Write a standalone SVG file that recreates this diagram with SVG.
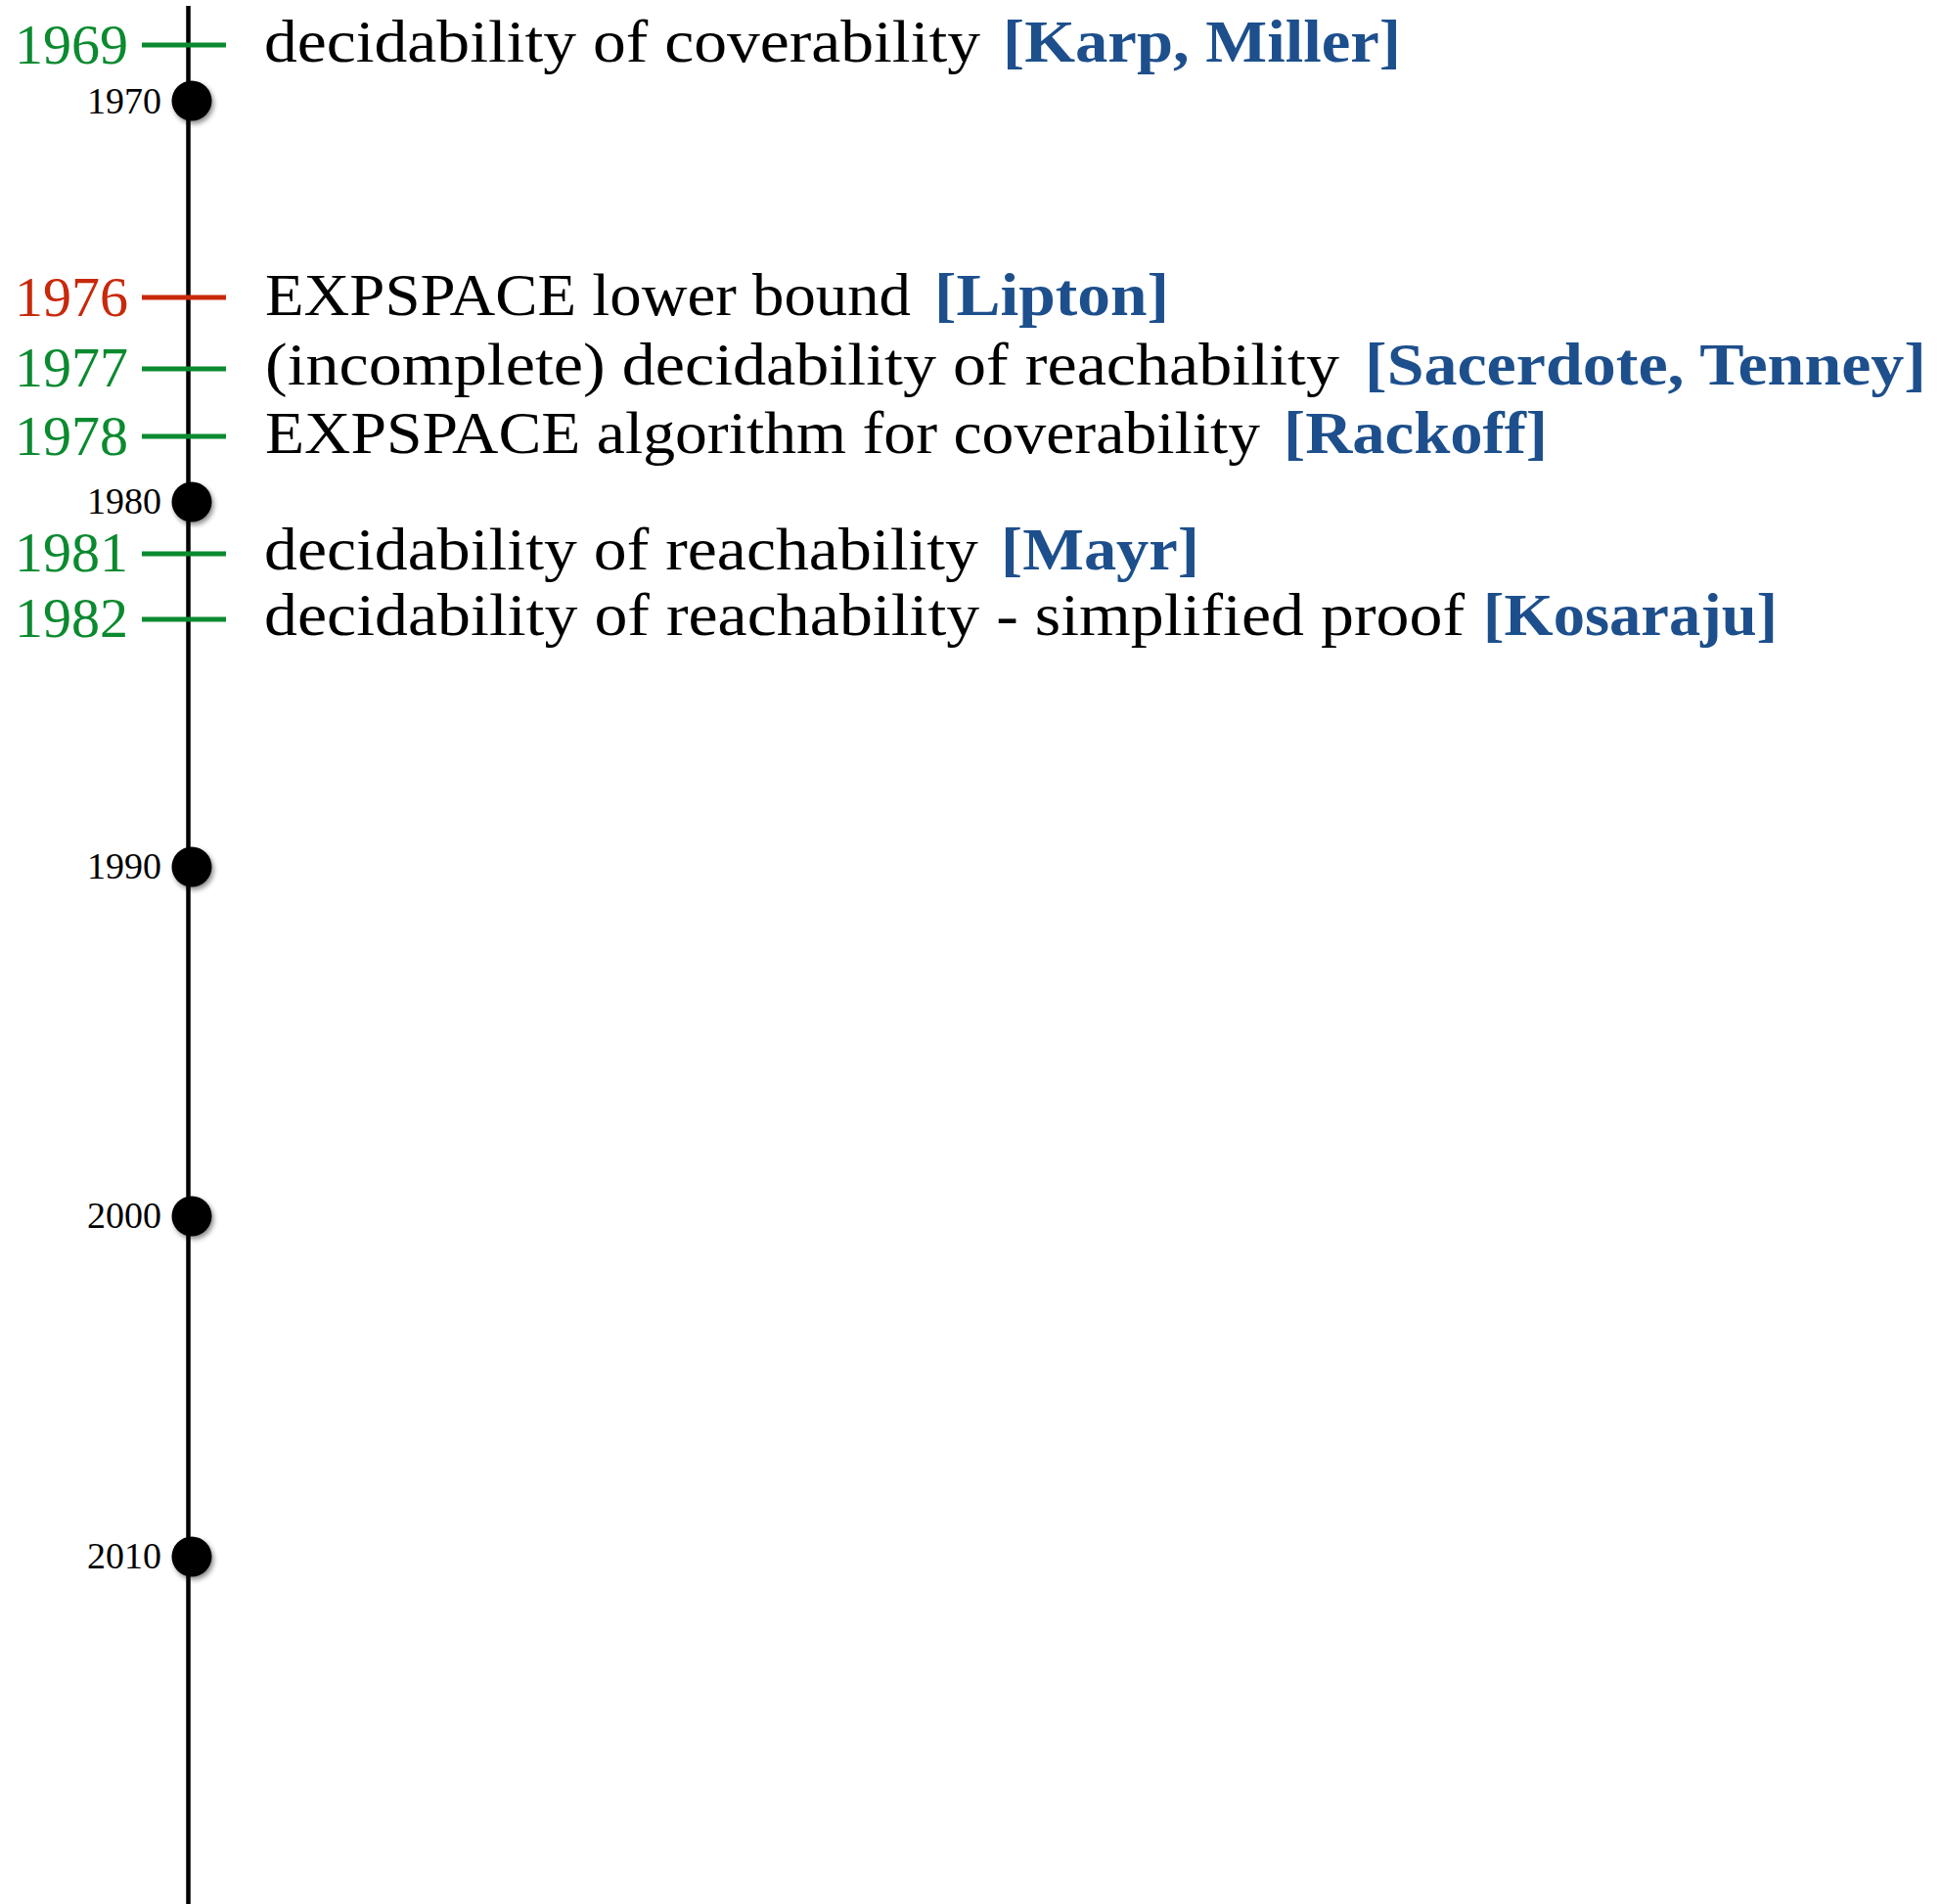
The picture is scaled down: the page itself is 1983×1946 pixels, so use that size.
<svg xmlns="http://www.w3.org/2000/svg" width="1983" height="1946" viewBox="0 0 1983 1946">
<style>
.yr{font-family:"Liberation Serif",serif;font-size:58px;text-anchor:end}
.g{fill:#0B8A2F}
.r{fill:#C8290B}
.txt{font-family:"Liberation Serif",serif;font-size:61px;fill:#000}
.cite{font-family:"Liberation Serif",serif;font-size:61px;font-weight:bold;fill:#1D4F8C}
.dec{font-family:"Liberation Serif",serif;font-size:38px;fill:#000;text-anchor:end}
.tickg{stroke:#0B8A2F;stroke-width:5}
.tickr{stroke:#C8290B;stroke-width:5}
.dot{fill:#000;filter:url(#sh)}
</style>
<defs>
<filter id="sh" x="-50%" y="-50%" width="200%" height="200%">
<feDropShadow dx="2" dy="3" stdDeviation="2.5" flood-color="#000" flood-opacity="0.45"/>
</filter>
</defs>
<rect width="1983" height="1946" fill="#fff"/>
<g id="connectors">
<line x1="192.5" y1="6" x2="192.5" y2="1946" stroke="#000" stroke-width="4.5"/>
<line class="tickg" x1="145" y1="46" x2="231" y2="46"/>
<line class="tickr" x1="145" y1="304" x2="231" y2="304"/>
<line class="tickg" x1="145" y1="377" x2="231" y2="377"/>
<line class="tickg" x1="145" y1="446" x2="231" y2="446"/>
<line class="tickg" x1="145" y1="566" x2="231" y2="566"/>
<line class="tickg" x1="145" y1="633" x2="231" y2="633"/>
</g>
<g id="decade-1970"><circle class="dot" cx="196" cy="103" r="20.5"/><text class="dec" x="165" y="116">1970</text></g>
<g id="decade-1980"><circle class="dot" cx="196" cy="513" r="20.5"/><text class="dec" x="165" y="525">1980</text></g>
<g id="decade-1990"><circle class="dot" cx="196" cy="886" r="20.5"/><text class="dec" x="165" y="898">1990</text></g>
<g id="decade-2000"><circle class="dot" cx="196" cy="1243" r="20.5"/><text class="dec" x="165" y="1255">2000</text></g>
<g id="decade-2010"><circle class="dot" cx="196" cy="1591" r="20.5"/><text class="dec" x="165" y="1603">2010</text></g>
<g id="event-1969">
<text class="yr g" x="131" y="65">1969</text>
<text class="txt" x="270" y="63" textLength="732" lengthAdjust="spacingAndGlyphs">decidability of coverability</text>
<text class="cite" x="1025" y="63" textLength="407" lengthAdjust="spacingAndGlyphs">[Karp, Miller]</text>
</g>
<g id="event-1976">
<text class="yr r" x="131" y="323">1976</text>
<text class="txt" x="271" y="322" textLength="660" lengthAdjust="spacingAndGlyphs">EXPSPACE lower bound</text>
<text class="cite" x="955" y="322" textLength="240" lengthAdjust="spacingAndGlyphs">[Lipton]</text>
</g>
<g id="event-1977">
<text class="yr g" x="131" y="395">1977</text>
<text class="txt" x="271" y="393" textLength="1098" lengthAdjust="spacingAndGlyphs">(incomplete) decidability of reachability</text>
<text class="cite" x="1395" y="393" textLength="574" lengthAdjust="spacingAndGlyphs">[Sacerdote, Tenney]</text>
</g>
<g id="event-1978">
<text class="yr g" x="131" y="465">1978</text>
<text class="txt" x="271" y="463" textLength="1017" lengthAdjust="spacingAndGlyphs">EXPSPACE algorithm for coverability</text>
<text class="cite" x="1312" y="463" textLength="270" lengthAdjust="spacingAndGlyphs">[Rackoff]</text>
</g>
<g id="event-1981">
<text class="yr g" x="131" y="584">1981</text>
<text class="txt" x="270" y="582" textLength="730" lengthAdjust="spacingAndGlyphs">decidability of reachability</text>
<text class="cite" x="1023" y="582" textLength="203" lengthAdjust="spacingAndGlyphs">[Mayr]</text>
</g>
<g id="event-1982">
<text class="yr g" x="131" y="651">1982</text>
<text class="txt" x="270" y="649" textLength="1227" lengthAdjust="spacingAndGlyphs">decidability of reachability - simplified proof</text>
<text class="cite" x="1516" y="649" textLength="301" lengthAdjust="spacingAndGlyphs">[Kosaraju]</text>
</g>
</svg>
